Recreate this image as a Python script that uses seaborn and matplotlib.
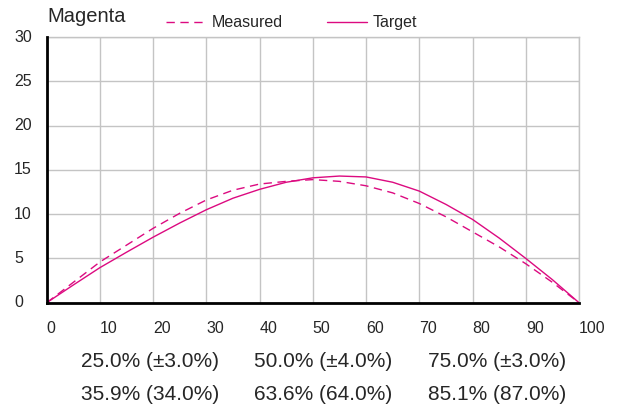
import numpy as np
import pandas as pd
import matplotlib
matplotlib.use("Agg")
import matplotlib.pyplot as plt
import matplotlib.transforms as mtransforms
import seaborn as sns

# Tone values (%) and dot gain readings
tone = [0, 5, 10, 15, 20, 25, 30, 35, 40, 45, 50, 55, 60, 65, 70, 75, 80, 85, 90, 95, 100]
measured = [0, 2.3, 4.6, 6.5, 8.4, 10.1, 11.6, 12.7, 13.4, 13.7, 13.9, 13.7, 13.2, 12.4, 11.2,
            9.7, 8.0, 6.3, 4.4, 2.3, 0]
target = [0, 2.0, 3.96, 5.7, 7.4, 9.0, 10.5, 11.8, 12.8, 13.6, 14.1, 14.3, 14.2, 13.6, 12.6,
          11.1, 9.4, 7.3, 5.0, 2.6, 0]

x_ticks = [0, 10, 20, 30, 40, 50, 60, 70, 80, 90, 100]
y_ticks = [0, 5, 10, 15, 20, 25, 30]

# Summary rows under the chart
nominal = [25.0, 50.0, 75.0]
tolerance = [3.0, 4.0, 3.0]
measured_pct = [35.9, 63.6, 85.1]
target_pct = [34.0, 64.0, 87.0]

color = "#DC0A80"
grid_col = "#C4C4C4"

sns.set_style("white")
plt.rcParams["font.family"] = ["Liberation Sans", "DejaVu Sans"]

df = pd.concat([
    pd.DataFrame({"tone": tone, "gain": measured, "series": "Measured"}),
    pd.DataFrame({"tone": tone, "gain": target, "series": "Target"}),
])

fig = plt.figure(figsize=(6.23, 4.04), dpi=100)
ax = fig.add_axes([46.7 / 623, 1 - 302.7 / 404, (579 - 46.7) / 623, (302.7 - 37) / 404])

sns.lineplot(data=df, x="tone", y="gain", style="series",
             dashes={"Measured": (6, 4), "Target": ""},
             color=color, linewidth=1.0, ax=ax, legend=True, zorder=3)

ax.set_xlim(0, 100)
ax.set_ylim(0, 30)
ax.set_xticks(x_ticks)
ax.set_yticks(y_ticks)
ax.grid(True, color=grid_col, linewidth=1.0)
ax.set_axisbelow(True)
ax.set_xlabel("")
ax.set_ylabel("")

for s in ["top", "right"]:
    ax.spines[s].set_color(grid_col)
    ax.spines[s].set_linewidth(1.0)
for s in ["left", "bottom"]:
    ax.spines[s].set_color("black")
    ax.spines[s].set_linewidth(2.0)
    ax.spines[s].set_zorder(4)

ax.tick_params(axis="x", length=0, pad=13, labelsize=11.5)
ax.set_xticklabels([str(v) for v in x_ticks])
for lab in ax.get_xticklabels():
    lab.set_ha("left")

# y labels left aligned at a fixed column
ax.tick_params(axis="y", length=0, labelleft=False)
trans = mtransforms.blended_transform_factory(fig.transFigure, ax.transData)
for v in y_ticks:
    ax.text(14 / 623, v, str(v), transform=trans, ha="left", va="center", fontsize=11.5)

# title and legend
fig.text(47 / 623, 1 - 22 / 404, "Magenta", fontsize=14.5, ha="left", va="baseline")
handles, labels = ax.get_legend_handles_labels()
ax.legend(handles, labels, loc="center left", bbox_to_anchor=(166 / 623, 1 - 22.7 / 404),
          bbox_transform=fig.transFigure, ncol=2, frameon=False, fontsize=11.5,
          handlelength=2.5, handletextpad=0.35, columnspacing=2.8,
          borderpad=0, borderaxespad=0)

# summary rows
cols = [150, 323, 497]
for cx, n, t in zip(cols, nominal, tolerance):
    fig.text(cx / 623, 1 - 367 / 404, f"{n:.1f}% (±{t:.1f}%)", ha="center", va="baseline", fontsize=15)
for cx, m, t in zip(cols, measured_pct, target_pct):
    fig.text(cx / 623, 1 - 400 / 404, f"{m:.1f}% ({t:.1f}%)", ha="center", va="baseline", fontsize=15)

fig.savefig("out.png", dpi=100)
